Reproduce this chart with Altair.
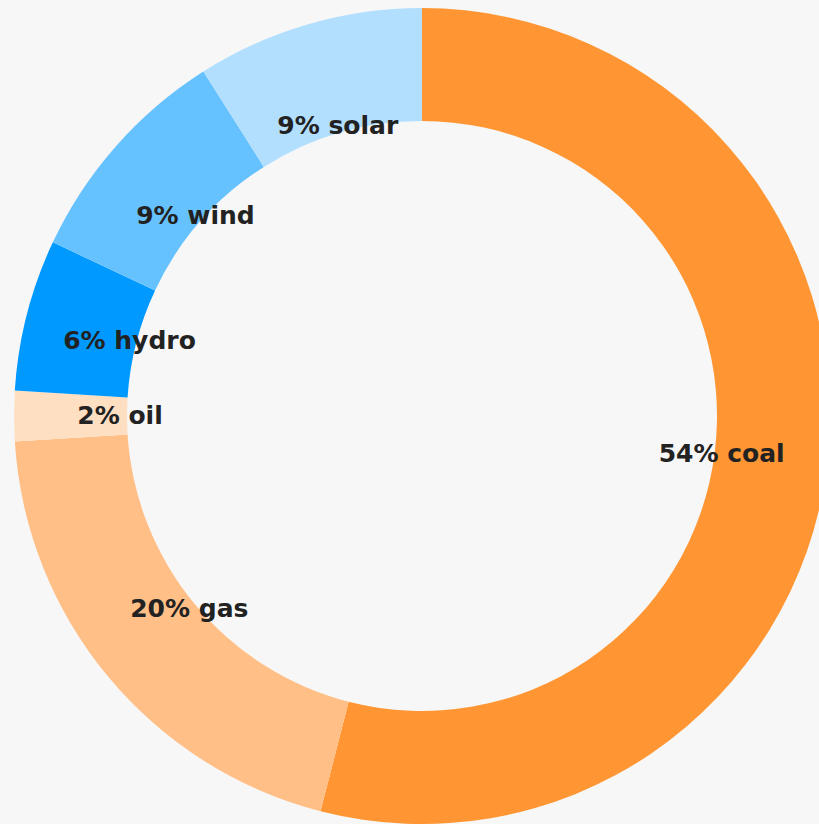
import altair as alt
import pandas as pd

sources = ["coal", "gas", "oil", "hydro", "wind", "solar"]
shares = [54, 20, 2, 6, 9, 9]
colors = ["#ff9633", "#ffbf87", "#ffdfc2", "#0099ff", "#66c2ff", "#b3dfff"]

df = pd.DataFrame({
    "source": sources,
    "share": shares,
    "order": list(range(len(sources))),
    "label": [f"{v}% {s}" for s, v in zip(sources, shares)],
})

W, H = 819, 824
CX, CY = 422, 416

base = alt.Chart(df).encode(
    theta=alt.Theta("share:Q", stack=True),
    order=alt.Order("order:Q"),
)

arcs = base.mark_arc(outerRadius=408, innerRadius=295, stroke=None).encode(
    color=alt.Color("source:N", scale=alt.Scale(domain=sources, range=colors), legend=None),
    x=alt.value(CX),
    y=alt.value(CY),
)

labels = base.mark_text(
    radius=302,
    font="DejaVu Sans",
    fontWeight="bold",
    fontSize=25,
    color="#222222",
    align="center",
    baseline="middle",
    dx=CX - W / 2,
    dy=CY - H / 2,
).encode(text="label:N")

chart = (arcs + labels).properties(
    width=W,
    height=H,
    padding=0,
    autosize=alt.AutoSizeParams(type="none"),
    background="#f7f7f7",
).configure_view(stroke=None)

chart.save("out.html", embed_options={"renderer": "svg", "actions": False})
